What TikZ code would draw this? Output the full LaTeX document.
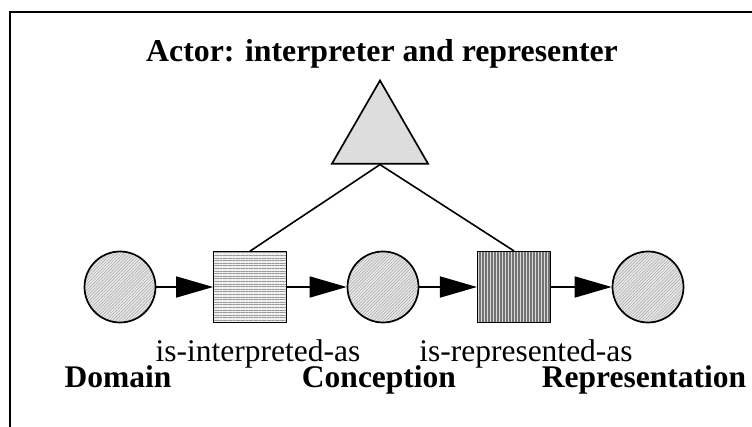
\documentclass[tikz,border=0pt]{standalone}
\usepackage{fontspec}
\setmainfont{Liberation Serif}
\usetikzlibrary{shapes, arrows.meta, patterns.meta}
\tikzstyle{o}      = [draw, circle, line width=1.7pt, minimum size=71pt, inner sep=0pt,
                      preaction={fill=gray!18}, pattern color=gray!70,
                      pattern={Lines[angle=45, distance=2.2pt, line width=0.5pt]}]
\tikzstyle{sq}     = [draw, rectangle, line width=1.7pt, minimum width=73pt, minimum height=71pt, inner sep=0pt]
\tikzstyle{flow}   = [draw, line width=1.7pt, -{Triangle[length=37pt, width=21pt]}]
\tikzstyle{link}   = [draw, line width=1.6pt]
\tikzstyle{lbl}    = [anchor=base, inner sep=0pt, font=\fontsize{31.5}{32}\selectfont]
\tikzstyle{term}   = [anchor=base, inner sep=0pt, font=\fontsize{31.5}{32}\selectfont\bfseries]

\begin{document}
\begin{tikzpicture}[x=1pt, y=-1pt]

\useasboundingbox (0,0) rectangle (752,427);
\draw [line width=2.4pt] (10,427) -- (10,12) -- (752,12);

% nodes
\node [o]  at ( 120 , 287 ) (domain)         {};
\node [sq, preaction={fill=gray!12}, pattern color=gray!80,
           pattern={Lines[angle=0, distance=2.6pt, line width=0.7pt]}]
           at ( 250 , 287 ) (interp)         {};
\node [o]  at ( 383 , 287 ) (conception)     {};
\node [sq, preaction={fill=gray!30}, pattern color=gray!90!black,
           pattern={Lines[angle=90, distance=3pt, line width=1.1pt]}]
           at ( 514 , 287 ) (repr)           {};
\node [o]  at ( 648 , 287 ) (representation) {};

\node [draw, regular polygon, regular polygon sides=3, minimum size=111pt, inner sep=0pt,
       line width=1.7pt, preaction={fill=gray!20}, pattern color=gray!60,
       pattern={Dots[distance=2pt, radius=0.5pt]}]
       at ( 380 , 136 ) (actor) {};

\node [term, font=\fontsize{31.8}{32}\selectfont\bfseries] at ( 382 , 62 ) (title) {Actor: interpreter and representer};

\node [lbl]  at ( 258 , 362 ) (isinterp) {is-interpreted-as};
\node [lbl]  at ( 526 , 362 ) (isrepr)   {is-represented-as};
\node [term] at ( 118 , 388 ) (ldomain)  {Domain};
\node [term] at ( 379 , 388 ) (lconc)    {Conception};
\node [term] at ( 644 , 388 ) (lrepr)    {Representation};

% edges
\path [flow]
  (domain)     edge (interp)
  (interp)     edge (conception)
  (conception) edge (repr)
  (repr)       edge (representation);

\path [link]
  (actor.side 2) edge (interp.north)
  (actor.side 2) edge (repr.north);

\end{tikzpicture}
\end{document}
